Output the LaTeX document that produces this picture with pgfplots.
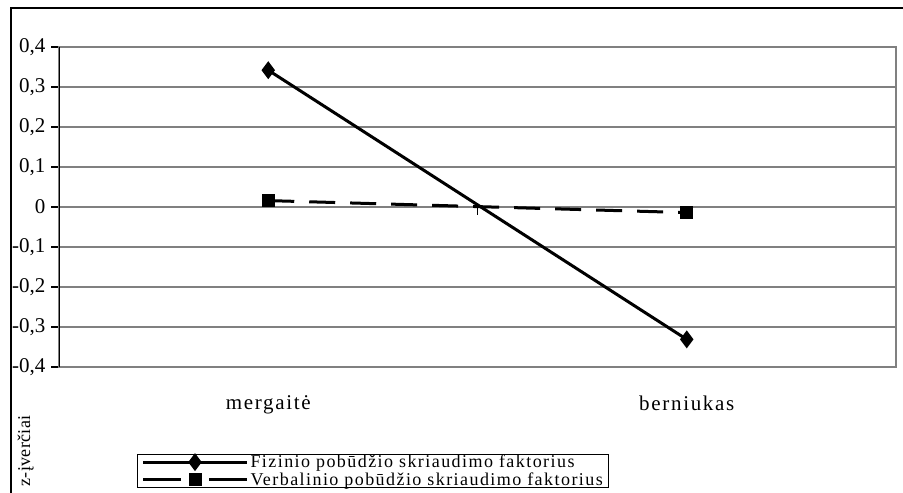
\documentclass[border=0pt]{standalone}
\usepackage{fontspec}
\setmainfont{Liberation Serif}
\usepackage{pgfplots}
\pgfplotsset{compat=1.18}
\definecolor{gridgray}{HTML}{808080}

\begin{document}
\begin{tikzpicture}
\begin{axis}[
  at={(59pt,126pt)}, anchor=south west,
  scale only axis, width=837pt, height=320pt,
  xmin=-0.5, xmax=1.5, ymin=-0.4, ymax=0.4,
  xtick={0,1}, xticklabels={mergaitė, berniukas},
  ytick={-0.4,-0.3,-0.2,-0.1,0,0.1,0.2,0.3,0.4},
  /pgf/number format/fixed,
  /pgf/number format/precision=1,
  /pgf/number format/use comma,
  /pgf/number format/assume math mode=true,
  ymajorgrids,
  major grid style={draw=gridgray, line width=1.3pt},
  axis line style={draw=gridgray, line width=1.5pt},
  tick align=outside, major tick length=8pt,
  ytick pos=left, xtick pos=bottom,
  ytick style={draw=black, line width=1.2pt},
  xtick style={draw=none},
  tick label style={font=\fontsize{21}{24}\selectfont},
  yticklabel style={xshift=-2pt},
  xticklabel style={yshift=-17pt, font=\fontsize{21}{24}\selectfont\addfontfeatures{LetterSpace=8}},
  ylabel={z-įverčiai},
  ylabel style={at={(axis description cs:-0.040,-0.385)}, anchor=west,
    font=\fontsize{18}{20}\selectfont\addfontfeatures{LetterSpace=2}},
  legend style={at={(axis description cs:0.0932,-0.272)}, anchor=north west,
    draw=black, line width=1pt, fill=white,
    font=\fontsize{18}{19}\selectfont\addfontfeatures{LetterSpace=8},
    cells={anchor=west}, row sep=3.5pt, inner xsep=4pt, inner ysep=0.5pt,
    nodes={inner ysep=0pt}},
  legend image code/.code={
    \draw[mark repeat=2, mark phase=2] plot coordinates {(0pt,0pt) (52pt,0pt) (104pt,0pt)};
  },
]
\addplot[black, line width=3pt, mark=diamond*, mark size=6.5pt]
  coordinates {(0,0.342) (1,-0.331)};
\addplot[black, line width=3pt, dash pattern=on 26pt off 15pt,
  mark=square*, mark size=5pt, mark options={solid},
  legend image code/.code={
    \draw[dash pattern=on 38pt off 28pt, mark repeat=2, mark phase=2]
      plot coordinates {(0pt,0pt) (52pt,0pt) (104pt,0pt)};
  }]
  coordinates {(0,0.016) (1,-0.014)};
\legend{Fizinio pobūdžio skriaudimo faktorius, Verbalinio pobūdžio skriaudimo faktorius}
\draw[black, line width=1.3pt] (rel axis cs:0,0) -- (rel axis cs:0,1);
\draw[black, line width=1.2pt] (axis cs:0.5,0) -- ++(0pt,-8pt);
\end{axis}
\draw[black, line width=1.5pt] (11pt,-2pt) -- (11pt,485pt) -- (905pt,485pt);
\pgfresetboundingbox
\useasboundingbox (0pt,0pt) rectangle (903pt,493pt);
\end{tikzpicture}
\end{document}
